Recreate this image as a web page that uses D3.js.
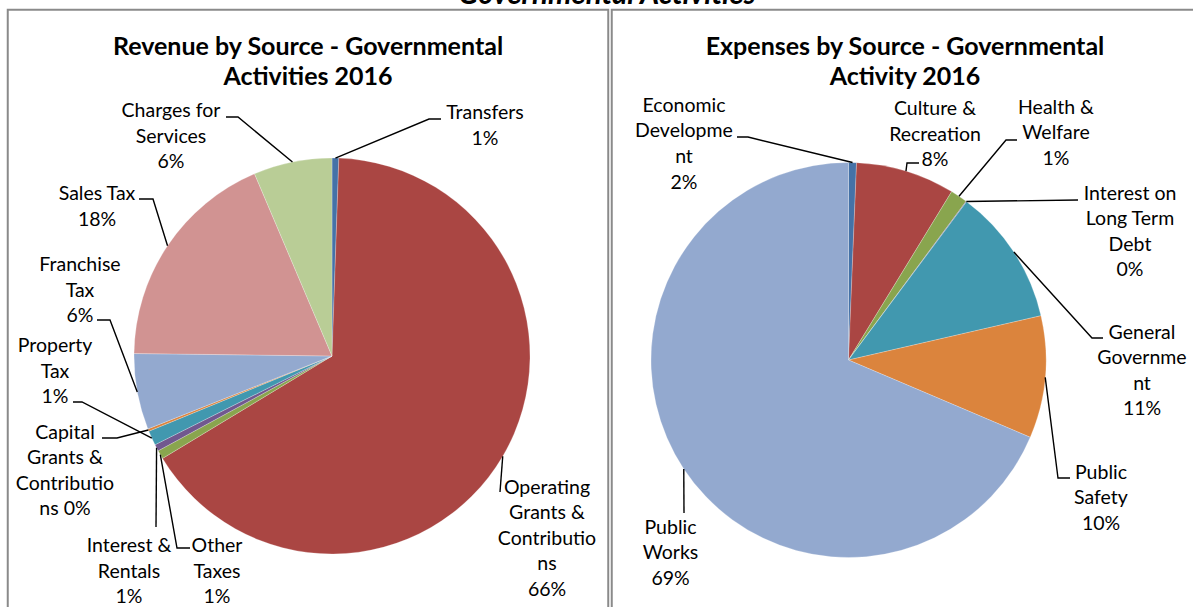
<!DOCTYPE html>
<html>
<head>
  <title>Governmental Activities 2016</title>
  <script src="https://d3js.org/d3.v7.min.js"></script>
  <style>
    body { margin:0; background:#fff; }
    text { font-family: Lato, sans-serif; fill: #000; }
    .main-title { font-size: 29.5px; font-weight: 700; font-style: italic; }
    .chart-title { font-size: 25px; font-weight: 700; }
    .label { font-size: 19.5px; }
    .leader { fill: none; stroke: #000; stroke-width: 1.4; }
    .frame { fill: none; stroke: #8a8a8a; stroke-width: 2; }
    .slice { stroke: #fff; stroke-width: 0.4; stroke-opacity: 0.6; }
  </style>
</head>
<body>
<script>
// ---- Revenue by Source (share of total, %) ----
var revNames = ["Transfers", "Operating Grants & Contributions", "Other Taxes", "Interest & Rentals",
                "Property Tax", "Capital Grants & Contributions", "Franchise Tax", "Sales Tax", "Charges for Services"];
var revValues = [0.55, 65.8, 0.7, 0.55, 1.2, 0.2, 6.2, 18.4, 6.4];
// label text as printed on the chart
var revLabels = [
  ["Transfers", "1%"],
  ["Operating", "Grants &", "Contributio", "ns", "66%"],
  ["Other", "Taxes", "1%"],
  ["Interest &", "Rentals", "1%"],
  ["Property", "Tax", "1%"],
  ["Capital", "Grants &", "Contributio", "ns 0%"],
  ["Franchise", "Tax", "6%"],
  ["Sales Tax", "18%"],
  ["Charges for", "Services", "6%"]
];

// ---- Expenses by Source (share of total, %) ----
var expNames = ["Economic Development", "Culture & Recreation", "Health & Welfare", "Interest on Long Term Debt",
                "General Government", "Public Safety", "Public Works"];
var expValues = [0.65, 8.1, 1.4, 0.05, 11.2, 10.0, 68.6];
var expLabels = [
  ["Economic", "Developme", "nt", "2%"],
  ["Culture &", "Recreation", "8%"],
  ["Health &", "Welfare", "1%"],
  ["Interest on", "Long Term", "Debt", "0%"],
  ["General", "Governme", "nt", "11%"],
  ["Public", "Safety", "10%"],
  ["Public", "Works", "69%"]
];

// excel 2007 palette
var revColours = ["#4572a7", "#aa4643", "#89a54e", "#71588f", "#4198af", "#db843d", "#93a9cf", "#d19392", "#b9cd96"];
var expColours = ["#4572a7", "#aa4643", "#89a54e", "#71588f", "#4198af", "#db843d", "#93a9cf"];

// label placement: x centre, first baseline, leader points from the label towards the slice
var revPlace = [
  {x: 485, y: 119, leader: [[441, 119], [429, 119]]},
  {x: 547, y: 493.5, leader: [[500, 492]]},
  {x: 217, y: 552, leader: [[190, 548], [177, 548]]},
  {x: 129, y: 552, leader: [[156, 527]]},
  {x: 55, y: 352, leader: [[73, 402], [82, 402]]},
  {x: 65, y: 438.5, leader: [[102, 438], [117, 438]]},
  {x: 80, y: 271, leader: [[97, 320], [110, 320]]},
  {x: 97, y: 200, leader: [[139, 199], [153, 199]]},
  {x: 171, y: 117, leader: [[226, 117], [238, 117]]}
];
var expPlace = [
  {x: 684, y: 111.7, leader: [[737, 137], [748, 137]]},
  {x: 935, y: 115, leader: [[919, 163], [907, 163]]},
  {x: 1056, y: 113.5, leader: [[1017, 140], [1006, 140]]},
  {x: 1130, y: 199.5, leader: [[1078, 200]]},
  {x: 1142, y: 338.5, leader: [[1103, 338], [1092, 338]]},
  {x: 1101, y: 478.5, leader: [[1070, 478], [1058, 478]]},
  {x: 670.5, y: 533.5, leader: [[684, 513]]}
];

var width = 1193, height = 607;
var lineHeight = 25.6;

var svg = d3.select("body").append("svg")
    .attr("width", width)
    .attr("height", height);

// panel frames
svg.append("rect").attr("class", "frame")
    .attr("x", 7.75).attr("y", 9.75).attr("width", 600.5).attr("height", 700);
svg.append("rect").attr("class", "frame")
    .attr("x", 611.75).attr("y", 9.75).attr("width", 700).attr("height", 700);

// page heading, cut off at the top edge as in the source
svg.append("text")
    .attr("class", "main-title")
    .attr("x", 607).attr("y", 4)
    .attr("text-anchor", "middle")
    .text("Governmental Activities");

function drawPie(cfg) {
  var data = cfg.names.map((n, i) => ({
    name: n, value: cfg.values[i], lines: cfg.labels[i], place: cfg.place[i], colour: cfg.colours[i]
  }));

  var pie = d3.pie().sort(null).value(d => d.value);
  var arc = d3.arc().innerRadius(0).outerRadius(cfg.r);
  var edge = d3.arc().innerRadius(cfg.r).outerRadius(cfg.r);
  var arcs = pie(data);

  var title = svg.append("text")
      .attr("class", "chart-title")
      .attr("text-anchor", "middle");
  cfg.title.forEach((t, i) => {
    title.append("tspan").attr("x", cfg.titleX).attr("y", cfg.titleY + i * 29.5).text(t);
  });

  var g = svg.append("g")
      .attr("transform", "translate(" + [cfg.cx, cfg.cy] + ")");

  g.selectAll("path")
    .data(arcs)
    .enter().append("path")
      .attr("class", "slice")
      .attr("d", arc)
      .style("fill", d => d.data.colour);

  svg.append("g").selectAll("path")
    .data(arcs)
    .enter().append("path")
      .attr("class", "leader")
      .attr("d", d => {
        var c = edge.centroid(d);
        return d3.line()(d.data.place.leader.concat([[c[0] + cfg.cx, c[1] + cfg.cy]]));
      });

  var labels = svg.append("g").selectAll("text")
    .data(arcs)
    .enter().append("text")
      .attr("class", "label")
      .attr("text-anchor", "middle");
  labels.each(function(d) {
    var t = d3.select(this);
    d.data.lines.forEach((l, i) => {
      t.append("tspan")
        .attr("x", d.data.place.x)
        .attr("y", d.data.place.y + i * lineHeight)
        .text(l);
    });
  });
}

drawPie({
  names: revNames, values: revValues, labels: revLabels, colours: revColours, place: revPlace,
  cx: 332, cy: 356, r: 198,
  title: ["Revenue by Source - Governmental", "Activities 2016"], titleX: 308, titleY: 55
});

drawPie({
  names: expNames, values: expValues, labels: expLabels, colours: expColours, place: expPlace,
  cx: 848.5, cy: 360, r: 197.5,
  title: ["Expenses by Source - Governmental", "Activity 2016"], titleX: 905, titleY: 55
});
</script>
</body>
</html>
